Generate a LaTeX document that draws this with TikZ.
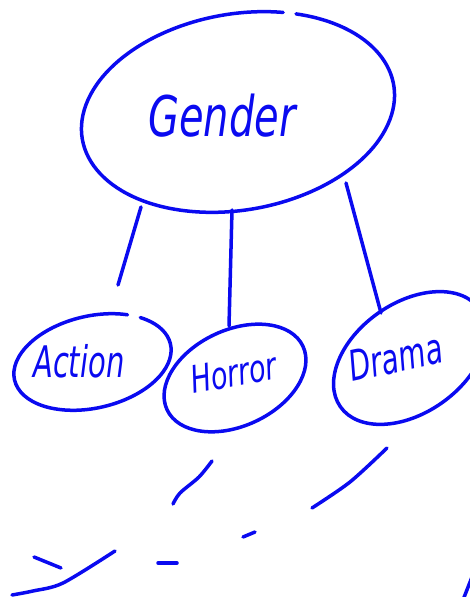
\documentclass[tikz,border=0pt]{standalone}
\usepackage{fontspec}
\usepackage{graphicx}
\newfontfamily\handfont{DejaVu Sans}
\definecolor{inkblue}{RGB}{10,10,240}
\begin{document}
\begin{tikzpicture}[x=1pt,y=1pt,
  ink/.style={draw=inkblue, line width=3.5pt, line cap=round, line join=round},
  lbl/.style={inner sep=0pt, anchor=base west, text=inkblue}]
\useasboundingbox (0,0) rectangle (470,597);
% ellipses
\begin{scope}[shift={(238,485)}, rotate=10]
  \coordinate (gc) at (0,0);
  \draw[ink] (67:158 and 98) arc[start angle=67, end angle=422, x radius=158, y radius=98];
\end{scope}
\begin{scope}[shift={(92.5,235)}, rotate=13]
  \coordinate (ac) at (0,0);
  \draw[ink] (56:80 and 46) arc[start angle=56, end angle=405, x radius=80, y radius=46];
\end{scope}
\begin{scope}[shift={(235,219)}, rotate=25]
  \coordinate (hc) at (0,0);
  \draw[ink] (0,0) ellipse[x radius=75, y radius=48];
\end{scope}
\begin{scope}[shift={(410,239)}, rotate=35]
  \coordinate (dc) at (0,0);
  \draw[ink] (0,0) ellipse[x radius=85, y radius=55];
\end{scope}
% labels
\node[lbl, font=\handfont\itshape\fontsize{40}{40}\selectfont] (gender) at (148,460) {\scalebox{1}[1.4]{Gender}};
\node[lbl, font=\handfont\itshape\fontsize{29}{29}\selectfont] (action) at (33,219) {\scalebox{1}[1.5]{Action}};
\node[lbl, font=\handfont\itshape\fontsize{27}{27}\selectfont, rotate=10] (horror) at (193,203) {\scalebox{1}[1.4]{\itshape Horror}};
\node[lbl, font=\handfont\itshape\fontsize{28}{28}\selectfont, rotate=12] (drama) at (352,215) {\scalebox{1}[1.5]{\itshape Drama}};
% connector end points
\coordinate (gL) at (141,390); \coordinate (aT) at (118,312);
\coordinate (gM) at (232,387); \coordinate (hT) at (229,271);
\coordinate (gR) at (346,414); \coordinate (dT) at (381,284);
\draw[ink] (gL) -- (aT);
\draw[ink] (gM) -- (hT);
\draw[ink] (gR) -- (dT);
% loose strokes below
\draw[ink] plot[smooth] coordinates {(212,136) (199,120) (180,104) (173,93)};
\draw[ink] plot[smooth] coordinates {(387,149) (350,115) (312,89)};
\draw[ink] (243,60) -- (255,65);
\draw[ink] (158,34) -- (177,34);
\draw[ink] (34,40) -- (61,29);
\draw[ink] plot[smooth] coordinates {(12,2) (33,6) (63,14) (115,46)};
\draw[ink] (463,-3) -- (472,20);
\end{tikzpicture}
\end{document}
